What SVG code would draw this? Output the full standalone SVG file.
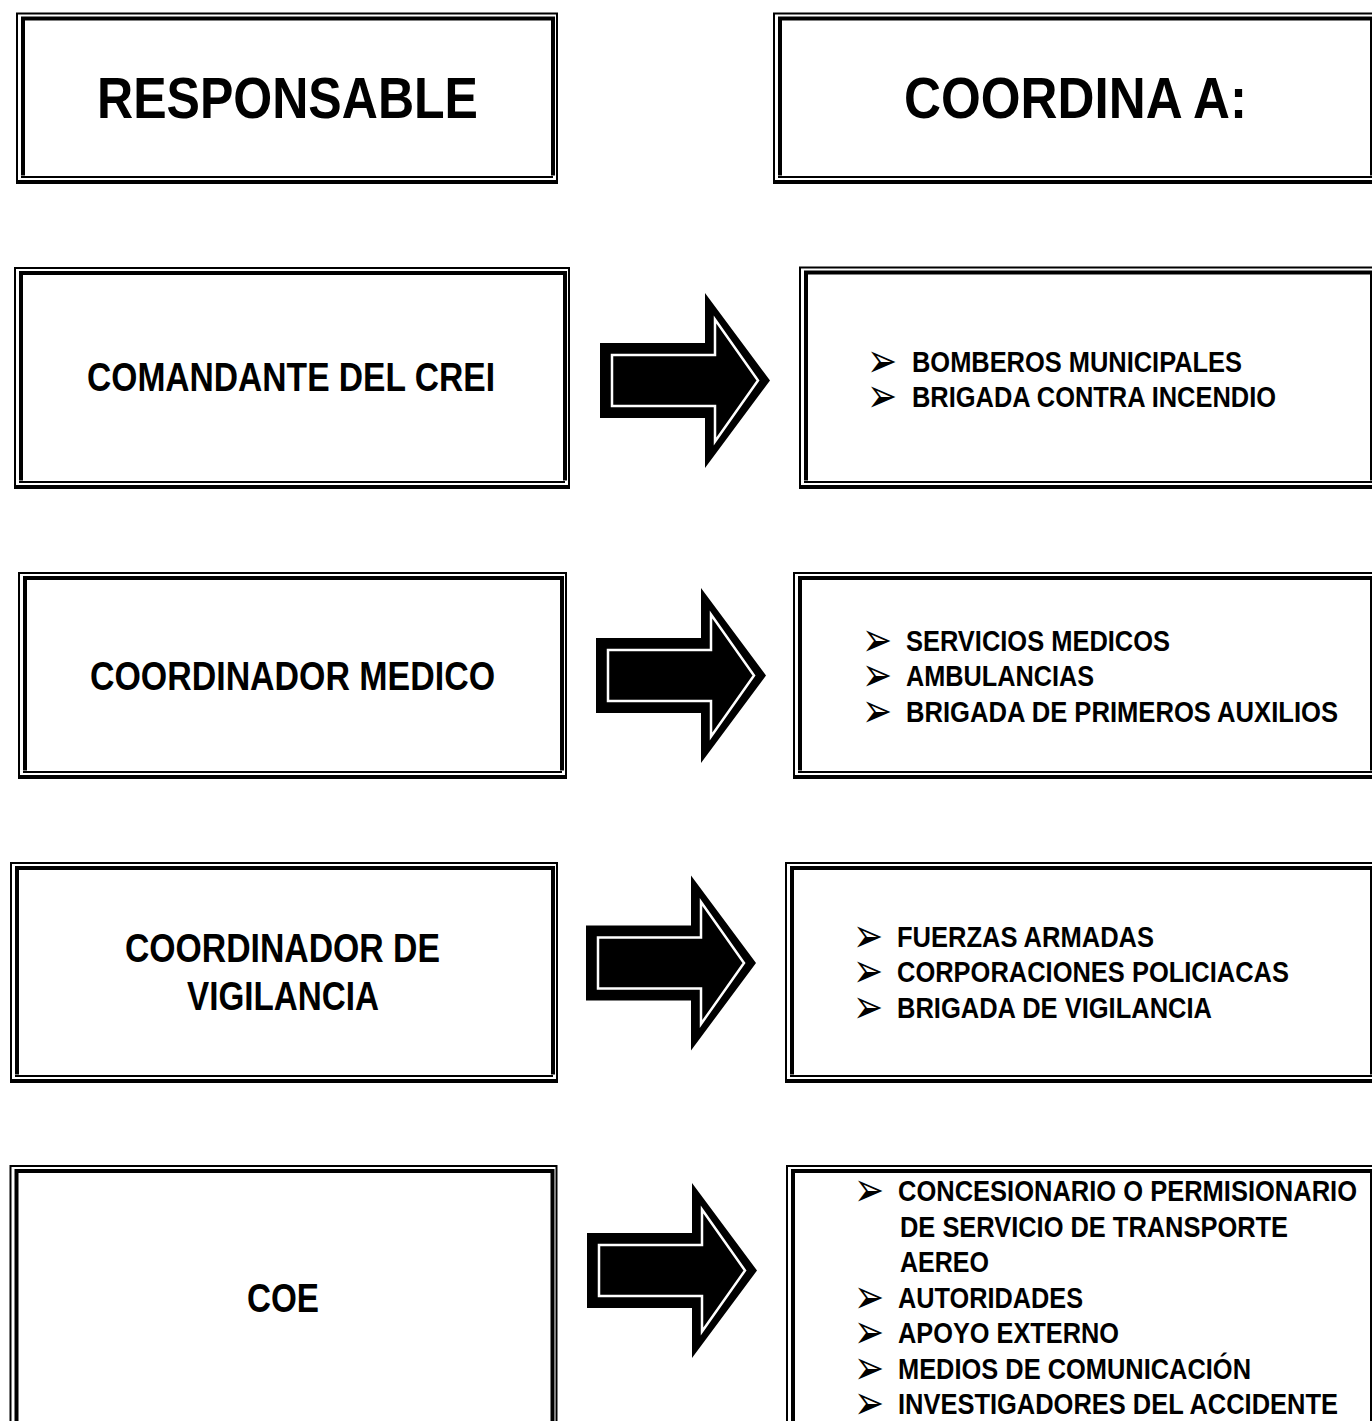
<svg xmlns="http://www.w3.org/2000/svg" xmlns:xlink="http://www.w3.org/1999/xlink" width="1372" height="1421" viewBox="0 0 1372 1421">
<style>
.thin{fill:none;stroke:#000;stroke-width:2}
.thick{fill:none;stroke:#000;stroke-width:4}
text{font-family:"Liberation Sans Narrow","Arial Narrow","Liberation Sans",Arial,sans-serif;font-weight:bold;fill:#000}
.h{font-size:57px}
.m{font-size:41px}
.s{font-size:29px}
.b{font-family:"DejaVu Sans",sans-serif;font-weight:normal;font-size:30px}
</style>
<defs>
<g id="arr">
<polygon points="-105,-37.5 0,-37.5 0,-87.5 65,0 0,87.5 0,37.5 -105,37.5" fill="#000"/>
<polygon points="-93,-25.5 10,-25.5 10,-61 53,0 10,61 10,25.5 -93,25.5" fill="#000" stroke="#fff" stroke-width="2.5" stroke-linejoin="miter"/>
</g>
</defs>
<rect width="1372" height="1421" fill="#fff"/>

<g id="responsable">
<path class="thin" d="M17 184V13.5H557V184M21 177H553"/>
<path class="thick" d="M23 175.5V18.5H553V175.5M16 182H558"/>
<text class="h" x="97" y="118" textLength="381" lengthAdjust="spacingAndGlyphs">RESPONSABLE</text>
</g>
<g id="coordina">
<path class="thin" d="M774 184V13.5H1376V184M778 177H1372"/>
<path class="thick" d="M780 175.5V18.5H1372V175.5M773 182H1377"/>
<text class="h" x="904" y="118" textLength="343" lengthAdjust="spacingAndGlyphs">COORDINA A:</text>
</g>

<g id="comandante">
<path class="thin" d="M15 489V268H569V489M19 482H565"/>
<path class="thick" d="M21 480.5V273H565V480.5M14 487H570"/>
<text class="m" x="87" y="391" textLength="408" lengthAdjust="spacingAndGlyphs">COMANDANTE DEL CREI</text>
</g>
<g id="bomberos">
<path class="thin" d="M800 489V267.5H1376V489M804 482H1372"/>
<path class="thick" d="M806 480.5V272.5H1372V480.5M799 487H1377"/>
<text class="b" transform="translate(867,377) scale(1.2,1.6)">➢</text>
<text class="s" x="912" y="372" textLength="330" lengthAdjust="spacingAndGlyphs">BOMBEROS MUNICIPALES</text>
<text class="b" transform="translate(867,412) scale(1.2,1.6)">➢</text>
<text class="s" x="912" y="407" textLength="364" lengthAdjust="spacingAndGlyphs">BRIGADA CONTRA INCENDIO</text>
</g>

<g id="medico">
<path class="thin" d="M19 779V573H566V779M23 772H562"/>
<path class="thick" d="M25 770.5V578H562V770.5M18 777H567"/>
<text class="m" x="90" y="690" textLength="405" lengthAdjust="spacingAndGlyphs">COORDINADOR MEDICO</text>
</g>
<g id="servicios">
<path class="thin" d="M794 779V573H1376V779M798 772H1372"/>
<path class="thick" d="M800 770.5V578H1372V770.5M793 777H1377"/>
<text class="b" transform="translate(862,656) scale(1.2,1.6)">➢</text>
<text class="s" x="906" y="651" textLength="264" lengthAdjust="spacingAndGlyphs">SERVICIOS MEDICOS</text>
<text class="b" transform="translate(862,691) scale(1.2,1.6)">➢</text>
<text class="s" x="906" y="686" textLength="188" lengthAdjust="spacingAndGlyphs">AMBULANCIAS</text>
<text class="b" transform="translate(862,727) scale(1.2,1.6)">➢</text>
<text class="s" x="906" y="722" textLength="432" lengthAdjust="spacingAndGlyphs">BRIGADA DE PRIMEROS AUXILIOS</text>
</g>

<g id="vigilancia">
<path class="thin" d="M11 1083V863H557V1083M15 1076H553"/>
<path class="thick" d="M17 1074.5V868H553V1074.5M10 1081H558"/>
<text class="m" x="125" y="962" textLength="315" lengthAdjust="spacingAndGlyphs">COORDINADOR DE</text>
<text class="m" x="187" y="1010" textLength="192" lengthAdjust="spacingAndGlyphs">VIGILANCIA</text>
</g>
<g id="fuerzas">
<path class="thin" d="M786 1083V863H1376V1083M790 1076H1372"/>
<path class="thick" d="M792 1074.5V868H1372V1074.5M785 1081H1377"/>
<text class="b" transform="translate(853,952) scale(1.2,1.6)">➢</text>
<text class="s" x="897" y="947" textLength="257" lengthAdjust="spacingAndGlyphs">FUERZAS ARMADAS</text>
<text class="b" transform="translate(853,987) scale(1.2,1.6)">➢</text>
<text class="s" x="897" y="982" textLength="392" lengthAdjust="spacingAndGlyphs">CORPORACIONES POLICIACAS</text>
<text class="b" transform="translate(853,1023) scale(1.2,1.6)">➢</text>
<text class="s" x="897" y="1018" textLength="315" lengthAdjust="spacingAndGlyphs">BRIGADA DE VIGILANCIA</text>
</g>

<g id="coe">
<path class="thin" d="M10.5 1440V1166H556.5V1440"/>
<path class="thick" d="M16.5 1440V1171H552.5V1440"/>
<text class="m" x="247" y="1312" textLength="72" lengthAdjust="spacingAndGlyphs">COE</text>
</g>
<g id="concesionario">
<path class="thin" d="M787 1440V1166H1376V1440"/>
<path class="thick" d="M793 1440V1171H1372V1440"/>
<text class="b" transform="translate(854,1206) scale(1.2,1.6)">➢</text>
<text class="s" x="898" y="1201" textLength="459" lengthAdjust="spacingAndGlyphs">CONCESIONARIO O PERMISIONARIO</text>
<text class="s" x="900" y="1237" textLength="388" lengthAdjust="spacingAndGlyphs">DE SERVICIO DE TRANSPORTE</text>
<text class="s" x="900" y="1272" textLength="89" lengthAdjust="spacingAndGlyphs">AEREO</text>
<text class="b" transform="translate(854,1313) scale(1.2,1.6)">➢</text>
<text class="s" x="898" y="1308" textLength="185" lengthAdjust="spacingAndGlyphs">AUTORIDADES</text>
<text class="b" transform="translate(854,1348) scale(1.2,1.6)">➢</text>
<text class="s" x="898" y="1343" textLength="221" lengthAdjust="spacingAndGlyphs">APOYO EXTERNO</text>
<text class="b" transform="translate(854,1384) scale(1.2,1.6)">➢</text>
<text class="s" x="898" y="1379" textLength="353" lengthAdjust="spacingAndGlyphs">MEDIOS DE COMUNICACIÓN</text>
<text class="b" transform="translate(854,1419) scale(1.2,1.6)">➢</text>
<text class="s" x="898" y="1414" textLength="440" lengthAdjust="spacingAndGlyphs">INVESTIGADORES DEL ACCIDENTE</text>
</g>

<g id="connectors">
<use xlink:href="#arr" transform="translate(705,380.5)"/>
<use xlink:href="#arr" transform="translate(701,675.5)"/>
<use xlink:href="#arr" transform="translate(691,963)"/>
<use xlink:href="#arr" transform="translate(692,1270.5)"/>
</g>
</svg>
